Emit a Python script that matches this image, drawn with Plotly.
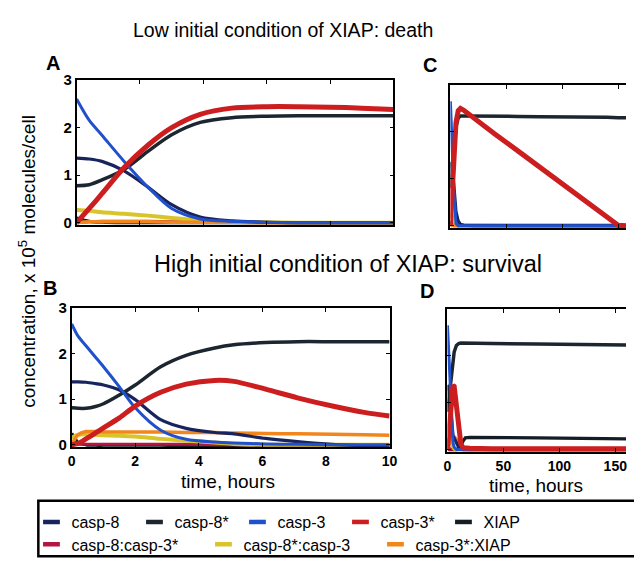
import plotly.graph_objects as go

# ---------------- data ----------------
series_names = ["casp-8", "casp-8*", "casp-3", "casp-3*", "XIAP",
                "casp-8:casp-3*", "casp-8*:casp-3", "casp-3*:XIAP"]

# Panel A : low XIAP, 0-10 h
t_A = [0, 0.4, 0.8, 1.5, 2.25, 3.0, 3.9, 4.9, 6.0, 7.0, 8.0, 9.0, 10.0]
casp8_A = [1.36, 1.34, 1.29, 1.09, 0.75, 0.38, 0.12, 0.04, 0.01, 0, 0, 0, 0]
casp8s_A = [0.78, 0.80, 0.90, 1.12, 1.50, 1.85, 2.11, 2.21, 2.24, 2.25, 2.25, 2.25, 2.25]
casp3_A = [2.60, 2.15, 1.84, 1.29, 0.75, 0.30, 0.08, 0.03, 0.01, 0, 0, 0, 0]
casp3s_A = [0, 0.30, 0.61, 1.16, 1.63, 2.00, 2.28, 2.41, 2.44, 2.44, 2.43, 2.41, 2.38]
xiap_A = [0.10, 0.03, 0.01, 0, 0, 0, 0, 0, 0, 0, 0, 0, 0]
c8c3s_A = [0, 0.02, 0.03, 0.03, 0.03, 0.02, 0.02, 0.01, 0.01, 0, 0, 0, 0]
c8sc3_A = [0.27, 0.25, 0.22, 0.19, 0.15, 0.10, 0.05, 0.02, 0.01, 0, 0, 0, 0]
c3sxiap_A = [0, 0.02, 0.02, 0.02, 0.02, 0.01, 0.01, 0.01, 0, 0, 0, 0, 0]

# Panel B : high XIAP, 0-10 h
t_B = [0, 0.2, 0.45, 0.75, 1.0, 1.5, 2.0, 2.8, 3.6, 4.5, 5.1, 6.1, 7.1, 8.2, 9.2, 10.0]
casp8_B = [1.38, 1.38, 1.37, 1.34, 1.31, 1.20, 0.99, 0.55, 0.36, 0.27, 0.24, 0.14, 0.07, 0.01, -0.02, -0.03]
casp8s_B = [0.81, 0.80, 0.80, 0.84, 0.90, 1.09, 1.31, 1.71, 1.96, 2.12, 2.19, 2.24, 2.26, 2.26, 2.26, 2.26]
casp3_B = [2.65, 2.38, 2.17, 1.92, 1.71, 1.27, 0.81, 0.32, 0.12, 0.06, 0.04, 0.02, 0.01, 0, 0, 0]
casp3s_B = [0, 0.03, 0.13, 0.26, 0.37, 0.59, 0.85, 1.15, 1.33, 1.41, 1.39, 1.22, 1.03, 0.85, 0.71, 0.63]
xiap_B = [0.25, 0.05, 0, -0.01, -0.01, -0.01, -0.01, -0.01, -0.02, -0.02, -0.02, -0.03, -0.03, -0.03, -0.04, -0.04]
c8c3s_B = [0, 0.01, 0.01, 0.01, 0.01, 0.01, 0.01, 0.01, 0.01, 0, 0, 0, 0, 0, 0, 0]
c8sc3_B = [0.15, 0.22, 0.23, 0.22, 0.21, 0.20, 0.18, 0.13, 0.09, 0.05, 0.02, 0, 0, 0, 0, 0]
c3sxiap_B = [0, 0.22, 0.29, 0.29, 0.28, 0.28, 0.28, 0.28, 0.27, 0.27, 0.26, 0.25, 0.24, 0.23, 0.22, 0.21]

# Panel C : low XIAP, long time
t_C = [0, 1, 3, 5, 7, 9, 12, 20, 40, 60, 80, 100, 120, 140, 150, 157]
casp8_C = [1.36, 1.30, 0.90, 0.30, 0.10, 0.03, 0.01, 0, 0, 0, 0, 0, 0, 0, 0, 0]
casp8s_C = [0.80, 1.00, 1.60, 2.10, 2.30, 2.34, 2.34, 2.34, 2.33, 2.33, 2.32, 2.32, 2.31, 2.31, 2.30, 2.30]
casp3_C = [2.65, 1.95, 0.80, 0.05, 0, 0, 0, 0, 0, 0, 0, 0, 0, 0, 0, 0]
casp3s_C = [0, 0.50, 1.50, 2.20, 2.45, 2.50, 2.46, 2.31, 1.95, 1.60, 1.24, 0.88, 0.52, 0.16, 0.01, 0]
xiap_C = [0.10, 0.02, 0, 0, 0, 0, 0, 0, 0, 0, 0, 0, 0, 0, 0, 0]
c8c3s_C = [0, 0.01, 0.01, 0.01, 0, 0, 0, 0, 0, 0, 0, 0, 0, 0, 0, 0]
c8sc3_C = [0.27, 0.20, 0.12, 0.03, 0, 0, 0, 0, 0, 0, 0, 0, 0, 0, 0, 0]
c3sxiap_C = [0, 0.01, 0.01, 0.01, 0.01, 0.01, 0.01, 0.01, 0.01, 0.01, 0.01, 0.01, 0.01, 0.01, 0.01, 0.01]

# Panel D : high XIAP, long time
t_D = [0, 1, 2, 3, 4, 5, 6, 8, 10, 12, 14, 16, 20, 40, 80, 120, 160]
casp8_D = [1.38, 1.30, 1.10, 0.80, 0.50, 0.30, 0.25, 0.15, 0.05, 0.02, 0, 0, 0, 0, 0, 0, 0]
casp8s_D = [0.80, 1.00, 1.25, 1.50, 1.75, 1.95, 2.08, 2.22, 2.26, 2.27, 2.27, 2.27, 2.27, 2.26, 2.25, 2.24, 2.23]
casp3_D = [2.65, 2.10, 1.50, 0.90, 0.45, 0.15, 0.05, 0, 0, 0, 0, 0, 0, 0, 0, 0, 0]
casp3s_D = [0, 0.30, 0.70, 1.05, 1.28, 1.37, 1.35, 1.00, 0.50, 0.12, 0.04, 0.03, 0.03, 0.02, 0.02, 0.02, 0.02]
xiap_D = [0.25, 0.05, 0, 0, 0, 0, 0, 0, 0.02, 0.08, 0.18, 0.25, 0.26, 0.26, 0.25, 0.24, 0.23]
c8c3s_D = [0, 0.01, 0.01, 0.01, 0.01, 0.01, 0.01, 0, 0, 0, 0, 0, 0, 0, 0, 0, 0]
c8sc3_D = [0.20, 0.22, 0.20, 0.15, 0.10, 0.05, 0.02, 0, 0, 0, 0, 0, 0, 0, 0, 0, 0]
c3sxiap_D = [0, 0.12, 0.22, 0.27, 0.28, 0.28, 0.27, 0.22, 0.12, 0.05, 0.02, 0.01, 0, 0, 0, 0, 0]

xticks_AB = [0, 2, 4, 6, 8, 10]
xticks_CD = [0, 50, 100, 150]
yticks = [0, 1, 2, 3]

# ---------------- styling ----------------
W, H = 634, 567
colors = {
    "casp-8": "#17245e",
    "casp-8*": "#1c2631",
    "casp-3": "#2050cc",
    "casp-3*": "#cc1e1e",
    "XIAP": "#141c24",
    "casp-8:casp-3*": "#b3163e",
    "casp-8*:casp-3": "#d9c52a",
    "casp-3*:XIAP": "#f2861c",
}
widths = {
    "casp-8": 3.2, "casp-8*": 3.5, "casp-3": 3.0, "casp-3*": 5.0,
    "XIAP": 3.2, "casp-8:casp-3*": 3.0, "casp-8*:casp-3": 4.0, "casp-3*:XIAP": 3.5,
}
draw_order = ["XIAP", "casp-8:casp-3*", "casp-8*:casp-3", "casp-3*:XIAP",
              "casp-8", "casp-8*", "casp-3", "casp-3*"]

panels = {
    "A": (t_A, {"casp-8": casp8_A, "casp-8*": casp8s_A, "casp-3": casp3_A, "casp-3*": casp3s_A,
                "XIAP": xiap_A, "casp-8:casp-3*": c8c3s_A, "casp-8*:casp-3": c8sc3_A,
                "casp-3*:XIAP": c3sxiap_A}, "x", "y"),
    "B": (t_B, {"casp-8": casp8_B, "casp-8*": casp8s_B, "casp-3": casp3_B, "casp-3*": casp3s_B,
                "XIAP": xiap_B, "casp-8:casp-3*": c8c3s_B, "casp-8*:casp-3": c8sc3_B,
                "casp-3*:XIAP": c3sxiap_B}, "x2", "y2"),
    "C": (t_C, {"casp-8": casp8_C, "casp-8*": casp8s_C, "casp-3": casp3_C, "casp-3*": casp3s_C,
                "XIAP": xiap_C, "casp-8:casp-3*": c8c3s_C, "casp-8*:casp-3": c8sc3_C,
                "casp-3*:XIAP": c3sxiap_C}, "x3", "y3"),
    "D": (t_D, {"casp-8": casp8_D, "casp-8*": casp8s_D, "casp-3": casp3_D, "casp-3*": casp3s_D,
                "XIAP": xiap_D, "casp-8:casp-3*": c8c3s_D, "casp-8*:casp-3": c8sc3_D,
                "casp-3*:XIAP": c3sxiap_D}, "x4", "y4"),
}

fig = go.Figure()
for key, (t, vals, xa, ya) in panels.items():
    shape = "spline" if key in ("A", "B") else "linear"
    for name in draw_order:
        fig.add_trace(go.Scatter(
            x=t, y=vals[name], xaxis=xa, yaxis=ya, mode="lines",
            line=dict(color=colors[name], width=widths[name], shape=shape,
                      **({"smoothing": 0.8} if shape == "spline" else {})),
            showlegend=False, hoverinfo="skip", cliponaxis=True))

# legend entries (short thick dashes)
row1 = series_names[:5]
row2 = series_names[5:]
for name in series_names:
    fig.add_trace(go.Scatter(
        x=[None], y=[None], mode="markers", name=name,
        legend="legend" if name in row1 else "legend2",
        marker=dict(symbol="line-ew", size=12, color=colors[name],
                    line=dict(width=4.5, color=colors[name]))))

def px_x(p):
    return p / W

def px_y(p):
    return 1 - p / H

FONT = "Liberation Sans"
tickfont = dict(family=FONT, size=14, color="black", weight="bold")

def xax(domain, rng, tickvals, labels):
    return dict(domain=domain, range=rng, tickvals=tickvals, showticklabels=labels,
                ticks="inside", ticklen=4, tickwidth=1.2, tickcolor="black",
                showline=True, linecolor="black", linewidth=1.6, mirror="ticks",
                showgrid=False, zeroline=False, tickfont=tickfont, fixedrange=True)

def yax(domain, rng, labels, mirror, anchor):
    return dict(domain=domain, range=rng, tickvals=yticks, showticklabels=labels,
                ticks="inside", ticklen=4, tickwidth=1.2, tickcolor="black",
                showline=True, linecolor="black", linewidth=1.6, mirror=mirror,
                showgrid=False, zeroline=False, tickfont=tickfont | dict(size=15),
                anchor=anchor, fixedrange=True)

yr = [-0.05, 3]
legfont = dict(family=FONT, size=16, color="black")
layout = dict(
    width=W, height=H, margin=dict(l=0, r=0, t=0, b=0),
    paper_bgcolor="white", plot_bgcolor="white",
    font=dict(family=FONT, color="black"),
    xaxis=xax([px_x(74), px_x(397)], [0, 10], xticks_AB, False) | dict(anchor="y"),
    yaxis=yax([px_y(222), px_y(73)], yr, True, "ticks", "x"),
    xaxis2=xax([px_x(69), px_x(393)], [0, 10], xticks_AB, True) | dict(anchor="y2"),
    yaxis2=yax([px_y(450), px_y(307)], yr, True, "ticks", "x2"),
    xaxis3=xax([px_x(455), 1], [0, 157], xticks_CD, False) | dict(anchor="y3"),
    yaxis3=yax([px_y(225), px_y(78)], yr, False, False, "x3"),
    xaxis4=xax([px_x(452), 1], [0, 159.6], xticks_CD, True) | dict(anchor="y4"),
    yaxis4=yax([px_y(455), px_y(308)], yr, False, False, "x4"),
    legend=dict(orientation="h", x=px_x(28), y=px_y(527), xanchor="left", yanchor="middle",
                entrywidth=58, bgcolor="rgba(0,0,0,0)", font=legfont,
                itemwidth=30, tracegroupgap=0),
    legend2=dict(orientation="h", x=px_x(28), y=px_y(550), xanchor="left", yanchor="middle",
                 entrywidth=127, bgcolor="rgba(0,0,0,0)", font=legfont,
                 itemwidth=30, tracegroupgap=0),
    showlegend=True,
)
fig.update_layout(**layout)

annotations = [
    dict(text="Low initial condition of XIAP: death", x=px_x(284), y=px_y(22),
         font=dict(size=19.5)),
    dict(text="High initial condition of XIAP: survival", x=px_x(351), y=px_y(262),
         font=dict(size=23.5)),
    dict(text="<b>A</b>", x=px_x(50), y=px_y(55), font=dict(size=20)),
    dict(text="<b>B</b>", x=px_x(47), y=px_y(287), font=dict(size=20)),
    dict(text="<b>C</b>", x=px_x(434), y=px_y(58), font=dict(size=20)),
    dict(text="<b>D</b>", x=px_x(431), y=px_y(290), font=dict(size=20)),
    dict(text="concentration, x 10<sup>5</sup> molecules/cell", x=px_x(24), y=px_y(259),
         textangle=-90, font=dict(size=19)),
    dict(text="time, hours", x=px_x(228), y=px_y(485), font=dict(size=19)),
    dict(text="time, hours", x=px_x(542), y=px_y(489), font=dict(size=19)),
]
for a in annotations:
    a.update(xref="paper", yref="paper", showarrow=False, xanchor="center", yanchor="middle")
fig.update_layout(annotations=annotations)

fig.add_shape(type="rect", xref="paper", yref="paper",
              x0=px_x(35), x1=1.05, y0=px_y(562), y1=px_y(505),
              line=dict(color="black", width=2.5), fillcolor="rgba(0,0,0,0)")

fig.write_html("out.html")
